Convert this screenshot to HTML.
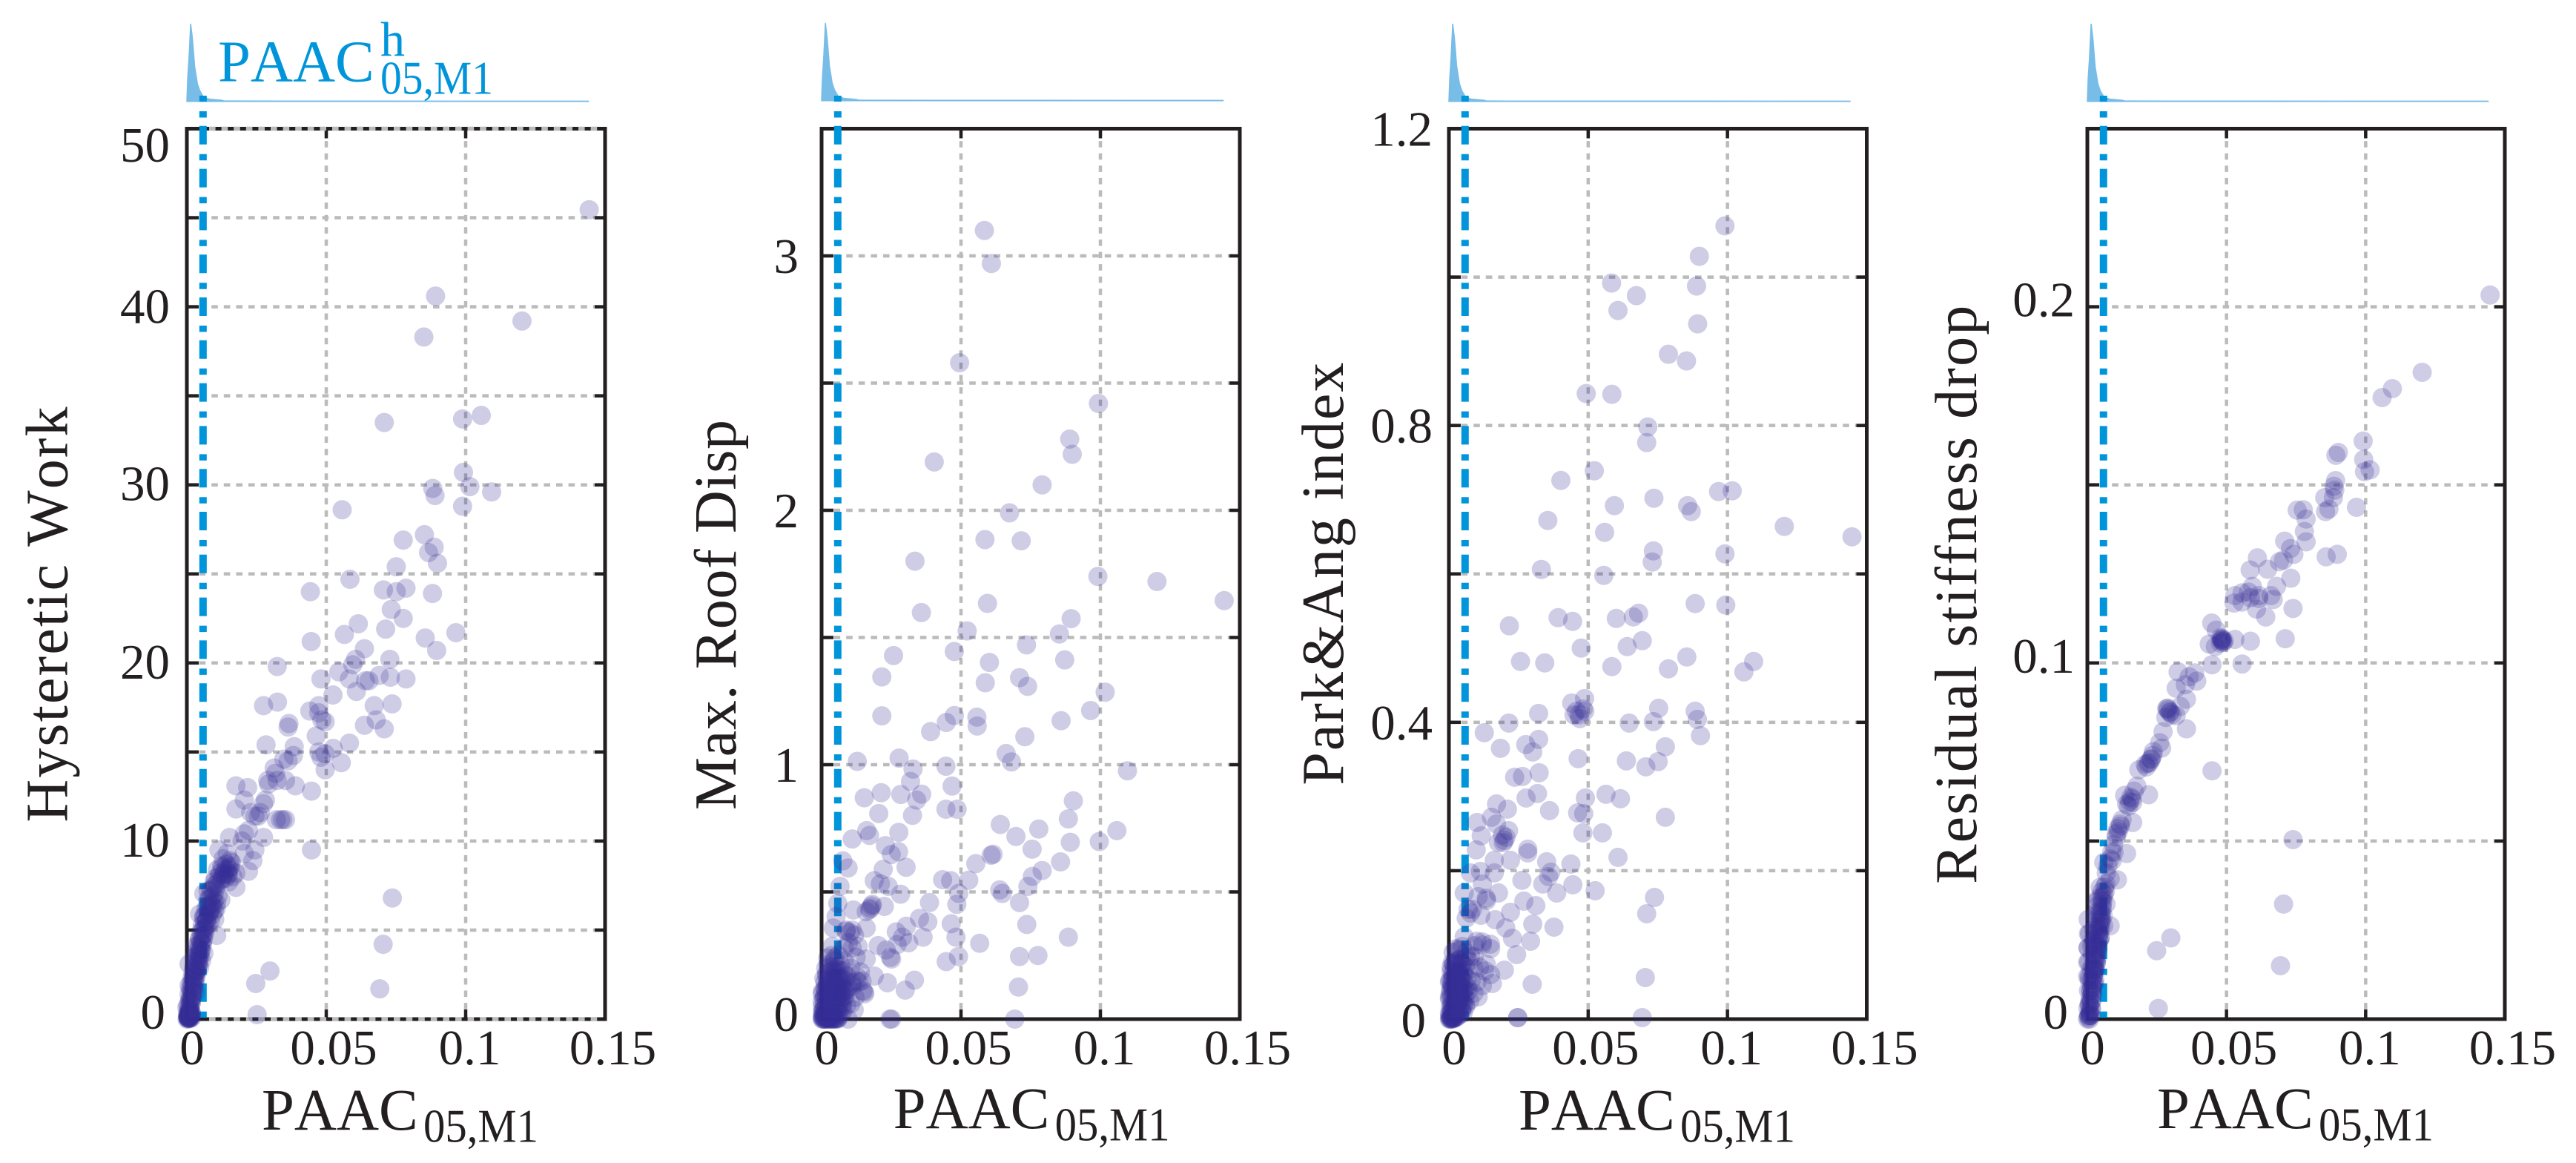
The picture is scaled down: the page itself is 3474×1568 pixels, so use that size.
<!DOCTYPE html>
<html lang="en">
<head>
<meta charset="utf-8">
<title>PAAC versus damage measures</title>
<style>
html,body{margin:0;padding:0;background:#fff}
svg{display:block;font-family:"Liberation Serif",serif;font-kerning:none}
text{fill:#231f20}
.blue{fill:#0095da}
</style>
</head>
<body>
<svg id="chart" xmlns="http://www.w3.org/2000/svg" width="3474" height="1568" viewBox="0 0 3474 1568">
<rect width="3474" height="1568" fill="#fff"/>
<g id="panels"></g>
<text class="blue" x="294" y="109.3" font-size="79">PAAC</text>
<text class="blue" x="513" y="75" font-size="66">h</text>
<text class="blue" x="513" y="126.7" font-size="64" textLength="152" lengthAdjust="spacingAndGlyphs">05,M1</text>
<text x="353" y="1523" font-size="79">PAAC</text>
<text x="571" y="1539.5" font-size="64" textLength="155" lengthAdjust="spacingAndGlyphs">05,M1</text>
<text x="1204.6" y="1521" font-size="79">PAAC</text>
<text x="1422.6" y="1537.5" font-size="64" textLength="155" lengthAdjust="spacingAndGlyphs">05,M1</text>
<text x="2048" y="1523" font-size="79">PAAC</text>
<text x="2266" y="1539.5" font-size="64" textLength="155" lengthAdjust="spacingAndGlyphs">05,M1</text>
<text x="2909" y="1521" font-size="79">PAAC</text>
<text x="3127" y="1537.5" font-size="64" textLength="155" lengthAdjust="spacingAndGlyphs">05,M1</text>
<text transform="translate(90.7 1108.5) rotate(-90)" font-size="80" textLength="560">Hysteretic Work</text>
<text transform="translate(992 1092) rotate(-90)" font-size="80" textLength="526">Max. Roof Disp</text>
<text transform="translate(1811 1058.6) rotate(-90)" font-size="80" textLength="570">Park&amp;Ang index</text>
<text transform="translate(2665 1191.8) rotate(-90)" font-size="80" textLength="780">Residual stiffness drop</text>
</svg>
<script>
// ---------- shared axis data ----------
const xTickValues = [0, 0.05, 0.1, 0.15];
const xTickLabels = ['0', '0.05', '0.1', '0.15'];
const thresholdPaac = [0.0058];
const histBinX = [0, 0.0003, 0.0008, 0.00136, 0.002, 0.0028, 0.0038, 0.0046, 0.006, 0.008, 0.0125, 0.0135, 0.144];
const histDensity = [0, 30, 58, 100, 81, 45, 22.6, 14, 5.4, 3, 1.5, 0.5, 0.3];

// ---------- Hysteretic Work ----------
const workTicks = [0, 5, 10, 15, 20, 25, 30, 35, 40, 45, 50];
const workTickLabels = ['0', '', '10', '', '20', '', '30', '', '40', '', '50'];
const workX = [
.1443,.0892,.0850,.1202,.0708,.0989,.1056,.0992,.0882,.1015,.1093,.0890,.0989,.0557,.0852,.0776,.0887,.0867,.0899,.0751,.0585,.0443,.0705,.0786,.0751,.0881,
.0733,.0776,.0615,.0713,.0565,.0446,.0855,.0965,.0896,.0637,.0728,.0605,.0324,.0595,.0545,.0583,.0481,.0653,.0690,.0730,.0786,.0641,.0608,.0524,
.0275,.0325,.0672,.0736,.0473,.0441,.0473,.0484,.0496,.0679,.0637,.0708,.0366,.0363,.0464,.0284,.0583,.0525,.0385,.0473,.0496,.0382,.0348,.0363,.0481,.0554,.0496,
.0313,.0318,.0290,.0354,.0324,.0293,.0389,.0447,.0176,.0218,.0282,.0206,.0275,.0176,.0229,.0263,.0244,.0256,.0321,.0336,.0344,.0354,
.0221,.0206,.0275,.0153,.0198,.0115,.0244,.0447,.0145,.0206,.0237,.0160,.0153,.0176,.0221,.0130,.0122,.0176,.0099,.0076,.0122,.0107,.0092,.0061,.0099,.0061,.0046,.0084,.0061,.0107,.0046,.0031,.0061,.0053,.0027,.0008,.0034,.0046,.0023,.0008,.0031,.0015,0,.0012,
.0737,.0704,.0298,.0247,.0692,.0252,
.0005,.0008,.0003,.001,.0006,.0012,.0004,.0015,.001,.0018,.0008,.002,.0012,.0025,.0015,.0028,.0018,.003,.0022,.0035,.0025,.0038,.003,.0042,.0032,.0045,.0036,.005,
.004,.0055,.0045,.0058,.005,.0065,.0055,.007,.006,.0078,.0068,.0085,.0075,.0092,.0085,.0105,.0098,.0115,.011,.0125,.013,.014,.0148,.0155,
.0001,.0003,.0005,.0007,.0009,.0011,.0013,.0002,.0004,.0006,.0008,.001,.0012,.0014,.0016,.0018
];
const workY = [
45.45,40.6,38.3,39.2,33.5,33.7,33.9,30.7,29.8,29.9,29.6,29.4,28.8,28.6,27.2,26.9,26.5,26.2,25.6,25.4,24.7,24.0,24.1,24.2,24.0,23.9,
23.0,22.5,22.2,21.9,21.6,21.2,21.4,21.7,20.7,20.8,20.2,20.2,19.8,19.9,19.5,19.1,19.1,19.0,19.3,19.2,19.1,19.0,18.4,18.2,
17.6,17.8,17.6,17.7,17.6,17.3,17.2,16.8,16.7,16.8,16.5,16.3,16.6,16.4,15.9,15.4,15.5,15.2,15.3,15.0,14.9,14.8,14.6,14.5,14.7,14.4,14.0,
14.1,13.8,13.4,13.4,13.4,13.2,13.1,12.8,13.1,13.0,12.3,12.3,12.1,11.8,11.6,11.6,11.4,11.4,11.2,11.2,11.2,11.2,
10.6,10.4,10.2,10.2,10.0,9.5,9.5,9.5,9.3,9.3,8.9,8.8,8.5,8.2,8.3,8.1,7.8,7.4,7.5,7.2,6.7,6.5,6.3,7.05,6.1,5.8,5.9,5.5,5.1,4.7,4.5,4.1,3.7,3.3,3.5,3.1,2.7,2.9,2.3,1.9,1.5,1.05,.65,.15,
6.8,4.2,2.7,2.0,1.7,.25,
.1,.2,.3,.4,.5,.6,.8,.9,1.1,1.2,1.4,1.5,1.7,1.8,2.0,2.1,2.3,2.4,2.6,2.7,2.9,3.0,3.2,3.3,3.5,3.6,3.8,3.9,
4.1,4.3,4.5,4.7,4.9,5.0,5.3,5.5,5.7,5.9,6.2,6.4,6.7,6.9,7.2,7.4,7.7,8.0,8.4,8.6,9.0,8.4,8.1,8.9,
0,.05,.02,.1,.05,.15,.03,.2,.1,.05,.25,.15,.3,.2,.35,.1
];
const workDenseX = [
.0006,.0012,.0009,.0016,.0011,.0019,.0014,.0022,.0016,.0026,.002,.0029,.0023,.0033,.0027,.0037,.003,.0041,.0034,.0044,
.0038,.0048,.0042,.0052,.0046,.0056,.005,.006,.0054,.0064,.0058,.0068,.0063,.0072,.0066,.008,.0074,.009,.0082,.0098,
.009,.0108,.0102,.012,.0128,.0135,.0142,.0138,.015,
.0008,.0012,.0006,.001,.0014,.0004,.0016,.0009,
.0157,.0148,.0165,.0150,.0128,.0098,.0105,.0092,.0112,.0085,.0100,.0076
];
const workDenseY = [
.3,.5,.7,.9,1.0,1.2,1.3,1.5,1.6,1.8,1.9,2.1,2.2,2.4,2.5,2.7,2.8,3.0,3.1,3.3,
3.4,3.6,3.7,3.9,4.0,4.2,4.3,4.5,4.6,4.8,5.0,5.2,5.4,5.6,5.8,6.0,6.3,6.5,6.8,7.0,
7.3,7.6,7.9,8.2,8.5,8.2,8.7,7.9,8.4,
.05,.1,.15,.25,.2,.1,.35,.45,
8.6,8.2,8.0,7.7,7.9,6.6,6.2,5.9,6.9,6.1,5.6,5.3
];

// ---------- Max. Roof Disp ----------
const roofTicks = [0, 0.5, 1, 1.5, 2, 2.5, 3];
const roofTickLabels = ['0', '', '1', '', '2', '', '3'];
const roofX = [
.0584,.0609,.0495,.0993,.0890,.0899,.0404,.0791,.0674,.0586,.0716,.0335,.0991,.1203,.1444,
.0595,.0358,.0895,.0522,.0853,.0258,.0735,.0476,.0602,.0872,.0216,.0710,.0739,.0587,.1017,.0965,.0216,.0476,.0447,.0557,.0558,.0859,.0391,.0729,.0662,.0681,.0128,.0278,.0446,.0328,.1097,
.0319,.0468,.0214,.0153,.0284,.0359,.0341,.0903,.0446,.0486,.0326,.0205,.0885,.0641,.0697,.0779,.0277,.0162,.0172,.0110,.1059,.0892,.0996,.0229,.0755,.0615,.0608,.0276,.0250,.0857,.0076,
.0553,.0095,.0221,.0303,.0791,.0756,.0528,.0434,.0463,.0189,.0211,.0239,.0740,.0066,.0639,.0648,.0492,.0283,.0485,.0387,.0710,.0058,.0182,.0175,.0225,.0114,.0160,.0052,
.0351,.0381,.0736,.0465,.0304,.0160,.0268,.0042,.0110,.0088,.0885,.0364,.0482,.0290,.0312,.0271,.0567,.0203,.0131,.0110,.0081,.0038,.0232,.0247,.0251,.0160,.0776,.0710,.0491,.0447,.0124,
.0081,.0045,.0023,.0139,.0189,.0236,.0333,.0300,.0706,.0153,.0110,.0066,.0088,.0052,.0023,.0016,.0117,.0095,.0251,.0245,.0693,
.0005,.001,.0015,.002,.0025,.003,.0035,.004,.0045,.005,.0055,.006,.0002,.0008,.0012,.0018,.0003,.0006,.0009,.0014,
.0015,.003,.0045,.006,.0075,.009,.0105,
.001,.0025,.004,.0055,.007,.0085,.012,
.0002,.002,.0035,.005,.0065,.008,.0095,.011,
.0008,.0018,.003,.0042,.0058,.0072,
.0015,.0028,.0038,.0052,.0068,
.0002,.0012,.0022,.0035,.0048,.006,.0078,.009,.0105,.0125,.0145
];
const roofY = [
3.10,2.97,2.58,2.42,2.28,2.22,2.19,2.10,1.99,1.885,1.88,1.80,1.74,1.72,1.645,
1.634,1.598,1.574,1.526,1.514,1.429,1.471,1.445,1.402,1.412,1.345,1.342,1.308,1.322,1.285,1.213,1.192,1.193,1.166,1.187,1.152,1.173,1.130,1.110,1.044,1.011,1.013,1.026,.994,.983,.976,
.934,.916,.890,.870,.883,.884,.861,.858,.825,.825,.801,.808,.787,.765,.718,.747,.734,.741,.722,.708,.741,.695,.698,.682,.668,.648,.644,.658,.647,.618,.622,
.611,.594,.589,.597,.584,.561,.546,.548,.544,.544,.532,.522,.522,.522,.508,.494,.494,.491,.451,.458,.458,.455,.451,.436,.443,.429,.422,.403,
.396,.382,.372,.375,.365,.358,.343,.358,.350,.350,.322,.322,.322,.322,.300,.293,.298,.289,.286,.279,.279,.286,.272,.243,.236,.236,.250,.246,.246,.226,.243,
.229,.229,.215,.186,.169,.143,.153,.114,.126,.107,.143,.157,.114,.114,.143,.100,.036,0,0,0,0,
0,0,0,.003,0,.002,0,.004,0,.002,.003,.004,.01,.012,.015,.02,.03,.035,.04,.03,
.05,.06,.055,.05,.06,.055,.06,
.09,.1,.095,.09,.1,.09,.085,
.07,.13,.13,.125,.13,.12,.125,.13,
.16,.17,.165,.16,.17,.16,
.2,.21,.205,.2,.21,
.1,.12,.24,.25,.24,.25,.19,.17,.2,.17,.15
];
const roofDenseX = [
.0005,.0012,.002,.0028,.0036,.0044,.0052,.006,.0068,.0076,
.0003,.001,.0018,.0026,.0034,.0042,.005,.0058,.0066,.0074,
.0008,.0016,.0024,.0032,.004,.0048,.0056,.0064,.0072,.008,
.0004,.0014,.0022,.003,.0038,.0046,.0054,.0062,.007,.0085,
.0012,.0021,.0031,.0041,.0051,.0061,.0071,.0082,
.0018,.0029,.0039,.0049,.0059,.0069,
.0002,.0009,.0016,.0023,.003,.0037,.0044,.0051,.0058,.0004,.0011,.0019,.0027,.0034,
.0180,.0172,.0088,.0102,.0118,.0096,.0155,.0148,.0132,.0125
];
const roofDenseY = [
.02,.025,.02,.03,.025,.02,.03,.025,.02,.03,
.05,.055,.06,.05,.055,.06,.05,.055,.06,.05,
.08,.085,.08,.09,.085,.08,.09,.085,.08,.09,
.11,.115,.12,.11,.115,.12,.11,.115,.12,.11,
.145,.15,.14,.155,.145,.15,.14,.155,
.18,.185,.19,.18,.185,.19,
0,.001,0,.001,0,.001,0,.001,0,.006,.007,.006,.008,.006,
.445,.430,.345,.340,.330,.300,.100,.112,.145,.150
];

// ---------- Park&Ang index ----------
const parkTicks = [0, 0.2, 0.4, 0.6, 0.8, 1.0, 1.2];
const parkTickLabels = ['0', '', '0.4', '', '0.8', '', '1.2'];
const parkX = [
.0991,.0899,.0584,.0889,.0673,.0607,.0893,.0788,.0853,.0493,.0585,.0714,.0710,.0522,.0402,.1017,.0968,.0736,.0594,.0857,.0870,.0355,.1204,.0559,.1447,.0734,.0730,.0991,.0332,.0556,
.0884,.0994,.0681,.0662,.0392,.0444,.0601,.0217,.0694,.0640,.0475,.0854,.1094,.1059,.0257,.0344,.0585,.0788,
.0487,.0441,.0753,.0449,.0488,.0467,.0322,.0884,.0892,.0215,.0734,.0647,.0903,.0127,.0322,.0185,.0276,.0301,.0777,.0464,.0637,.0751,.0707,.0324,.0236,.0264,
.0318,.0277,.0490,.0564,.0616,.0171,.0210,.0361,.0153,.0462,.0484,.0101,.0777,.0171,.0214,.0116,.0481,.0551,.0192,.0178,.0199,.0098,.0283,.0283,.0607,.0163,.0221,.0351,.0438,
.0366,.0113,.0163,.0262,.0337,.0358,.0445,.0525,.0387,.0077,.0120,.0055,.0178,.0134,.0105,.0269,.0312,.0738,.0710,.0069,.0077,.0062,.0221,.0166,.0301,.0377,.0204,.0228,.0293,.0243,
.0120,.0149,.0091,.0055,.0033,.0062,.0091,.0134,.0199,.0299,.0705,.0156,.0105,.0247,.0247,.0694,
.0003,.0006,.001,.0014,.0018,.0022,.0026,.003,.0002,.0008,.0012,.0016,
.001,.002,.003,.004,.005,.006,.0075,
.0005,.0015,.0025,.0035,.0045,.0055,.007,.009,
.0002,.0012,.0022,.0032,.0042,.0052,.0065,.008,.01,.012,
.0008,.0018,.0028,.0038,.0048,.006,.0072,.009,.011,.013,.015,
.0015,.0025,.0035,.0048,.0062,.0078,.0002,.001
];
const parkY = [
1.069,1.028,.992,.988,.975,.955,.937,.896,.887,.843,.842,.798,.777,.739,.726,.712,.711,.702,.692,.692,.684,.672,.664,.656,.650,.631,.616,.627,.606,.598,
.560,.558,.547,.542,.541,.536,.540,.530,.510,.502,.500,.488,.482,.468,.482,.480,.475,.472,
.432,.426,.419,.410,.415,.410,.412,.415,.404,.399,.401,.399,.382,.386,.377,.365,.370,.360,.367,.351,.348,.347,.340,.332,.326,.327,
.304,.298,.298,.303,.297,.290,.283,.281,.272,.278,.277,.265,.272,.263,.254,.247,.251,.251,.248,.238,.241,.228,.229,.224,.218,.214,.214,.212,.209,
.198,.199,.197,.187,.182,.192,.181,.173,.170,.197,.182,.170,.170,.163,.165,.159,.153,.164,.142,.148,.143,.136,.144,.134,.128,.124,.123,.109,.105,.087,
.104,.101,.099,.111,.094,.084,.084,.074,.066,.047,.056,.048,.030,.002,.002,.002,
0,.001,0,.002,.001,.003,.002,.004,.008,.01,.012,.015,
.02,.022,.02,.025,.022,.02,.025,
.035,.04,.038,.042,.036,.04,.038,.035,
.03,.055,.06,.058,.055,.06,.055,.052,.05,.045,
.07,.075,.072,.08,.075,.07,.078,.068,.07,.065,.06,
.09,.095,.092,.098,.09,.085,.05,.045
];
const parkDenseX = [
.0003,.0009,.0015,.0021,.0027,.0033,.0039,.0045,.0051,
.0005,.0011,.0017,.0023,.0029,.0035,.0041,.0047,.0053,.006,
.0002,.0008,.0014,.002,.0026,.0032,.0038,.0044,.005,.0058,
.0006,.0012,.0018,.0024,.003,.0036,.0042,.0048,.0056,.0066,
.0004,.001,.0016,.0022,.0028,.0034,.004,.0046,.0054,
.0008,.0014,.002,.0026,.0032,.0038,.0044,.0052,
.0012,.0018,.0024,.003,.0036,.0044,
.0002,.0008,.0012,.0016,.0006,.001,.0014,.002,
.0458,.0470,.0482,.0205,.0195,.0120,.0100,.0085,.0115,.0135,.0150
];
const parkDenseY = [
.005,.008,.006,.01,.007,.009,.006,.01,.008,
.016,.018,.015,.019,.017,.016,.018,.015,.019,.017,
.027,.029,.03,.028,.031,.027,.03,.028,.031,.029,
.04,.042,.044,.041,.043,.04,.044,.042,.04,.043,
.052,.05,.054,.051,.053,.05,.054,.052,.05,
.064,.062,.066,.063,.065,.062,.066,.064,
.076,.074,.078,.075,.08,.076,
0,.001,0,.001,.002,.002,.003,.002,
.415,.405,.418,.245,.238,.100,.105,.148,.140,.160,.095
];

// ---------- Residual stiffness drop ----------
const stiffTicks = [0, 0.05, 0.1, 0.15, 0.2, 0.25];
const stiffTickLabels = ['0', '', '0.1', '', '0.2', ''];
const stiffX = [
.1447,.1203,.1096,.1059,.0991,.0993,.1016,.0996,.0902,.0893,.0892,.0886,.0889,.0884,.0853,.0868,.0856,.0967,.0754,.0776,.0786,.0780,.0786,.0709,.0730,.0742,.0705,.0690,.0611,.0858,.0898,.0585,.0648,.0731,.0680,.0593,.0556,.0579,.0530,.0616,.0660,
.0527,.0556,.0586,.0616,.0668,.0608,.0641,.0739,.0447,.0463,.0711,.0586,.0482,.0485,.0479,.0438,.0460,.0530,.0448,.0556,.0326,.0386,.0366,.0393,.0352,.0319,.0356,
.0289,.0297,.0282,.0319,.0334,.0356,.0272,.0260,.0267,.0237,.0230,.0208,.0185,.0223,.0448,.0178,.0156,.0141,.0134,.0220,.0163,.0163,.0119,.0111,.0104,.0739,
.0141,.0096,.0089,.0059,.0108,.0082,.0067,.0052,.0067,.0037,.0059,.003,.0022,.0015,.0045,.0082,.0705,.0300,.0249,.0694,.0255,
.0001,.0003,.0005,.0008,.001,.0012,
.0002,.0006,.0009,.0014,.0016,
.0004,.0011,.0018,.002,
.0007,.0015,.0022,.0025,
.0001,.0013,.0019,.0024,.0028,
.0005,.0017,.0027,.003,.0033,
.0003,.0021,.0026,.0032,.0036,
.0008,.0023,.0031,.0038,.0042,
.0029,.0035,.0045,.0048,
.0034,.0041,.005,.0055,
.0046,.0062,
.0002,.0001,.0004,.0006,.0003
];
const stiffY = [
.2033,.1816,.1770,.1745,.1623,.1571,.1542,.1537,.1591,.1583,.1512,.1496,.1485,.1464,.1464,.1432,.1425,.1437,.1429,.1430,.1404,.1369,.1340,.1342,.1321,.1305,.1289,.1284,.1295,.1298,.1305,.1261,.1263,.1238,.1215,.1215,.1197,.1199,.1189,.1189,.1189,
.1168,.1171,.1183,.1181,.1178,.1151,.1129,.1153,.1112,.1092,.1068,.1061,.1066,.1061,.1071,.1053,.1046,.1066,.0995,.0997,.0975,.0972,.0961,.0949,.0939,.0929,.0898,
.0873,.0863,.0847,.0852,.0878,.0815,.0807,.0776,.0761,.0751,.0730,.0715,.0700,.0720,.0697,.0654,.0623,.0603,.0628,.0630,.0608,.0552,.0542,.0526,.0511,.0504,
.0465,.0468,.0445,.0440,.0391,.0394,.0379,.0358,.0323,.0318,.0262,.0277,.0226,.0206,.0226,.0262,.0323,.0228,.0192,.0150,.0030,
0,.0005,.001,0,.0015,.001,
.003,.004,.005,.003,.005,
.008,.008,.007,.009,
.011,.011,.012,.01,
.012,.014,.015,.014,.014,
.016,.018,.018,.017,.016,
.02,.021,.022,.021,.02,
.024,.025,.026,.025,.024,
.029,.03,.03,.028,
.033,.034,.034,.033,
.037,.037,
.02,.016,.024,.012,.028
];
const stiffDenseX = [
.0006,.0009,.0012,.0015,.0008,.0011,.0014,.0017,.0013,.0016,.0019,.0022,.0018,.0021,.0024,.0027,.0023,.0026,.0029,.0032,.0028,.0031,
.0034,.0037,.0033,.0036,.0039,.0042,.0038,.0041,.0044,.0047,.0043,.0046,.0049,.0052,.0048,.0051,.0054,.0057,.0053,.0056,.006,.0065,
.0482,.0488,.0485,.0478,.0492,.0290,.0297,.0305,.0285,.0228,.0218,.0212,.0235,.0160,.0152,.0168,.0148,
.0118,.0110,.0104,.0125,.0095,.0088,.0082,.0074,.0068
];
const stiffDenseY = [
.001,.002,.001,.003,.004,.006,.005,.007,.008,.009,.008,.010,.011,.012,.013,.011,.014,.015,.014,.016,.017,.018,
.017,.019,.02,.021,.02,.022,.023,.024,.025,.023,.026,.027,.026,.028,.029,.03,.031,.029,.032,.034,.035,.036,
.1064,.1058,.1068,.1056,.1062,.0868,.0860,.0855,.0872,.0730,.0718,.0708,.0740,.0618,.0610,.0640,.0598,
.0548,.0535,.0520,.0560,.0490,.0470,.0450,.0430,.0410
];

// ---------- layout ----------
const NS = 'http://www.w3.org/2000/svg';
const FRAME_TOP = 173.5, FRAME_BOTTOM = 1374;
const INK = '#231f20', GRID = '#bbbbbb', BLUE = '#0095da', HIST = '#78bde8';
const xLabelShift = [7, 10, 5.5, 10.5];
const panelList = [
  {key:'hysteretic', left:252, right:816, yMax:50, ticks:workTicks, labels:workTickLabels, xs:workX.concat(workDenseX), ys:workY.concat(workDenseY), labelRight:229, zeroRight:223, labelDy:[-10,0,-2,0,-2,0,-2,0,-1,0,21.5], histBase:136.7, edgeGrid:true},
  {key:'roof-disp', left:1108, right:1672, yMax:3.5, ticks:roofTicks, labels:roofTickLabels, xs:roofX.concat(roofDenseX), ys:roofY.concat(roofDenseY), labelRight:1077, zeroRight:1077, labelDy:[-7,0,0,0,0,0,0], histBase:135.7, edgeGrid:false},
  {key:'park-ang', left:1954, right:2517.5, yMax:1.2, ticks:parkTicks, labels:parkTickLabels, xs:parkX.concat(parkDenseX), ys:parkY.concat(parkDenseY), labelRight:1932, zeroRight:1923, labelDy:[1,0,0,0,0,0,0], histBase:136.7, edgeGrid:false},
  {key:'stiffness', left:2815, right:3378, yMax:0.25, ticks:stiffTicks, labels:stiffTickLabels, xs:stiffX.concat(stiffDenseX), ys:stiffY.concat(stiffDenseY), labelRight:2798, zeroRight:2789, labelDy:[-10,0,-10,0,-10,0], histBase:136.7, edgeGrid:false}
];

function makeXScale(p){ return v => p.left + (v / 0.15) * (p.right - p.left); }
function makeYScale(p){ return v => FRAME_BOTTOM - (v / p.yMax) * (FRAME_BOTTOM - FRAME_TOP); }
function histScale(p){ return d => p.histBase - d * 1.047; }

function svgEl(tag, attrs, parent){
  const el = document.createElementNS(NS, tag);
  for (const k in attrs) el.setAttribute(k, attrs[k]);
  parent.appendChild(el);
  return el;
}

const root = document.getElementById('panels');
panelList.forEach(p => {
  const sx = makeXScale(p), sy = makeYScale(p), sh = histScale(p);
  const g = svgEl('g', {}, root);
  
  

  // marginal histogram
  const pts = histBinX.map((x, i) => sx(x).toFixed(2) + ',' + sh(histDensity[i]).toFixed(2));
  pts.push(sx(histBinX[histBinX.length - 1]).toFixed(2) + ',' + p.histBase);
  pts.push(sx(0).toFixed(2) + ',' + p.histBase);
  const hist = svgEl('polygon', {points: pts.join(' '), fill: HIST, stroke: HIST, 'stroke-width': 1.5, 'stroke-linejoin': 'miter'}, g);
  
  

  // grid
  p.ticks.forEach(t => {
    if (t === 0 || t === p.yMax) return;
    const line = svgEl('line', {x1: p.left, x2: p.right, y1: sy(t), y2: sy(t), stroke: GRID, 'stroke-width': 4.5, 'stroke-dasharray': '8.6 8'}, g);
    
    
  });
  xTickValues.forEach(t => {
    if (t === 0 || t === 0.15) return;
    const line = svgEl('line', {x1: sx(t), x2: sx(t), y1: FRAME_TOP, y2: FRAME_BOTTOM, stroke: GRID, 'stroke-width': 4.5, 'stroke-dasharray': '8.6 8'}, g);
    
    
  });

  // ticks
  p.ticks.forEach(t => {
    if (t === 0 || t === p.yMax) return;
    const a = svgEl('line', {x1: p.left, x2: p.left + 16, y1: sy(t), y2: sy(t), stroke: INK, 'stroke-width': 4.5}, g);
    
    
    const b = svgEl('line', {x1: p.right - 14, x2: p.right, y1: sy(t), y2: sy(t), stroke: INK, 'stroke-width': 4.5}, g);
    
    
  });
  xTickValues.forEach(t => {
    if (t === 0 || t === 0.15) return;
    const a = svgEl('line', {x1: sx(t), x2: sx(t), y1: FRAME_TOP, y2: FRAME_TOP + 13, stroke: INK, 'stroke-width': 4.5}, g);
    
    
    const b = svgEl('line', {x1: sx(t), x2: sx(t), y1: FRAME_BOTTOM - 13, y2: FRAME_BOTTOM, stroke: INK, 'stroke-width': 4.5}, g);
    
    
  });

  // frame
  const frame = svgEl('rect', {x: p.left, y: FRAME_TOP, width: p.right - p.left, height: FRAME_BOTTOM - FRAME_TOP, fill: 'none', stroke: INK, 'stroke-width': 5}, g);
  
  

  if (p.edgeGrid) {
    [FRAME_TOP, FRAME_BOTTOM].forEach(y => {
      const edge = svgEl('line', {x1: p.left + 30, x2: p.right - 6, y1: y, y2: y, stroke: GRID, 'stroke-width': 5.5, 'stroke-dasharray': '8.6 8'}, g);
      
      
    });
  }

  // threshold line
  const th = svgEl('line', {x1: sx(thresholdPaac[0]), x2: sx(thresholdPaac[0]), y1: 129, y2: 1372, stroke: BLUE, 'stroke-width': 10, 'stroke-dasharray': '25 13 8.5 11.3', 'stroke-dashoffset': 17}, g);
  
  

  // tick labels
  p.ticks.forEach((t, i) => {
    const label = p.labels[i];
    if (!label) return;
    const tx = svgEl('text', {x: t === 0 ? p.zeroRight : p.labelRight, y: sy(t) + p.labelDy[i] + 23, 'font-size': 67, 'text-anchor': 'end'}, g);
    tx.textContent = label;
    
    
  });
  xTickValues.forEach((t, i) => {
    const tx = svgEl('text', {x: sx(t) + xLabelShift[i], y: 1435, 'font-size': 67, 'text-anchor': 'middle'}, g);
    tx.textContent = xTickLabels[i];
    
    
  });

  // points
  const n = Math.min(p.xs.length, p.ys.length);
  for (let i = 0; i < n; i++) {
    const c = svgEl('circle', {cx: sx(p.xs[i]).toFixed(2), cy: sy(p.ys[i]).toFixed(2), r: 13, fill: 'rgb(54,48,150)', 'fill-opacity': 0.24}, g);
    
    
  }
});
</script>
</body>
</html>
